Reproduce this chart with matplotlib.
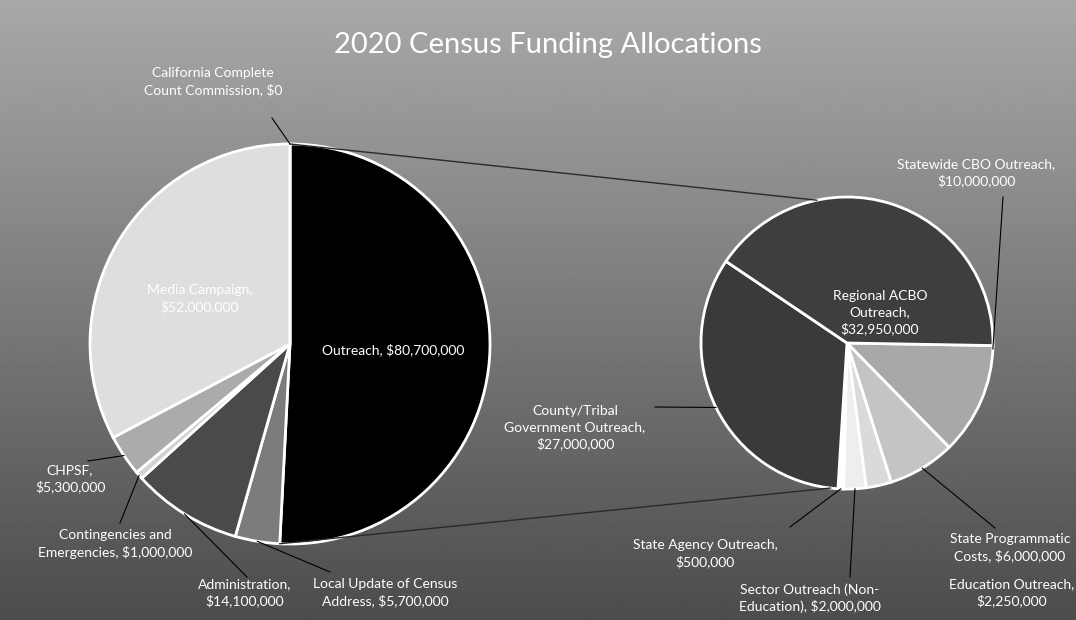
import numpy as np
import matplotlib.pyplot as plt

plt.rcParams['font.family'] = ['Lato', 'DejaVu Sans']

# main pie (whole budget), clockwise from 12 o'clock
main_names = ['Outreach', 'Local Update of Census\nAddress', 'Administration',
              'Contingencies and\nEmergencies', 'CHPSF', 'Media Campaign',
              'California Complete\nCount Commission']
main_seps = [', ', ', ', ',\n', ', ', ',\n', ',\n', ', ']
main_values = [80700000, 5700000, 14100000, 1000000, 5300000, 52000000, 0]
main_colors = ['#000000', '#7c7c7c', '#4a4a4a', '#d2d2d2', '#ababab', '#dedede', '#dedede']

# second pie (breakdown of Outreach), clockwise from 3 o'clock
sub_names = ['Statewide CBO Outreach', 'State Programmatic\nCosts', 'Education Outreach',
             'Sector Outreach (Non-\nEducation)', 'State Agency Outreach',
             'County/Tribal\nGovernment Outreach', 'Regional ACBO\nOutreach']
sub_seps = [',\n', ', ', ',\n', ', ', ',\n', ',\n', ',\n']
sub_values = [10000000, 6000000, 2250000, 2000000, 500000, 27000000, 32950000]
sub_colors = ['#a8a8a8', '#c4c4c4', '#dadada', '#eeeeee', '#ffffff', '#3a3a3a', '#3e3e3e']

W, H = 1076, 620

# label layout in pixel coords (x, y from top); None = no leader
main_text_pos = [(393, 350), (385, 593), (245, 593), (115, 544), (70, 479), (200, 299), (213, 82)]
main_leader_end = [None, (330, 572), (247, 577), (120, 523), (88, 461), None, (272, 118)]
sub_text_pos = [(976, 173), (1010, 548), (1012, 593), (810, 598), (705, 554), (575, 428), (880, 313)]
sub_leader_end = [(1003, 197), (995, 528), None, (850, 577), (790, 527), (655, 407), None]
# position along the wedge (theta1 -> theta2) where the leader touches
sub_leader_frac = [0.97, 0.5, 0.5, 0.5, 0.5, 0.5, 0.5]


def fmt(v):
    return '${:,.0f}'.format(v)


def py(y):
    return H - y


fig = plt.figure(figsize=(W / 100, H / 100), dpi=100)
ax = fig.add_axes([0, 0, 1, 1])

# gradient background
grad = np.linspace(0.66, 0.30, 256).reshape(-1, 1)
ax.imshow(grad, extent=[0, W, 0, H], cmap='gray', vmin=0, vmax=1, aspect='auto', zorder=0)

c1, r1 = (290, py(344)), 200
c2, r2 = (847, py(343)), 146

w1, _ = ax.pie(main_values, colors=main_colors, startangle=90, counterclock=False,
               center=c1, radius=r1, frame=True,
               wedgeprops=dict(edgecolor='white', linewidth=2))
w2, _ = ax.pie(sub_values, colors=sub_colors, startangle=-1, counterclock=False,
               center=c2, radius=r2, frame=True,
               wedgeprops=dict(edgecolor='white', linewidth=2))


def edge_pt(wedge, center, r, frac=0.5):
    a = np.deg2rad(wedge.theta1 + frac * (wedge.theta2 - wedge.theta1))
    return center[0] + r * np.cos(a), center[1] + r * np.sin(a)


# connector lines between pies
top1 = edge_pt(w1[0], c1, r1, 1.0)
bot1 = edge_pt(w1[0], c1, r1, 0.0)
a_top, a_bot = np.deg2rad(102), np.deg2rad(263.5)
ax.plot([top1[0], c2[0] + r2 * np.cos(a_top)], [top1[1], c2[1] + r2 * np.sin(a_top)],
        color='#2a2a2a', lw=1, zorder=1)
ax.plot([bot1[0], c2[0] + r2 * np.cos(a_bot)], [bot1[1], c2[1] + r2 * np.sin(a_bot)],
        color='#2a2a2a', lw=1, zorder=1)

# labels
for i, w in enumerate(w1):
    txt = main_names[i] + main_seps[i] + fmt(main_values[i])
    x, y = main_text_pos[i]
    ax.text(x, py(y), txt, ha='center', va='center', color='white', fontsize=10,
            linespacing=1.4, zorder=5)
    if main_leader_end[i] is not None:
        sx, sy = edge_pt(w, c1, r1, 0.5)
        ex, ey = main_leader_end[i]
        ax.plot([sx, ex], [sy, py(ey)], color='black', lw=0.8, zorder=4)

for i, w in enumerate(w2):
    txt = sub_names[i] + sub_seps[i] + fmt(sub_values[i])
    x, y = sub_text_pos[i]
    ax.text(x, py(y), txt, ha='center', va='center', color='white', fontsize=10,
            linespacing=1.4, zorder=5)
    if sub_leader_end[i] is not None:
        sx, sy = edge_pt(w, c2, r2, sub_leader_frac[i])
        ex, ey = sub_leader_end[i]
        ax.plot([sx, ex], [sy, py(ey)], color='black', lw=0.8, zorder=4)

ax.text(548, py(45), '2020 Census Funding Allocations', ha='center', va='center',
        color='white', fontsize=21)

ax.set_xlim(0, W)
ax.set_ylim(0, H)
ax.axis('off')

fig.savefig('out.png', dpi=100)
